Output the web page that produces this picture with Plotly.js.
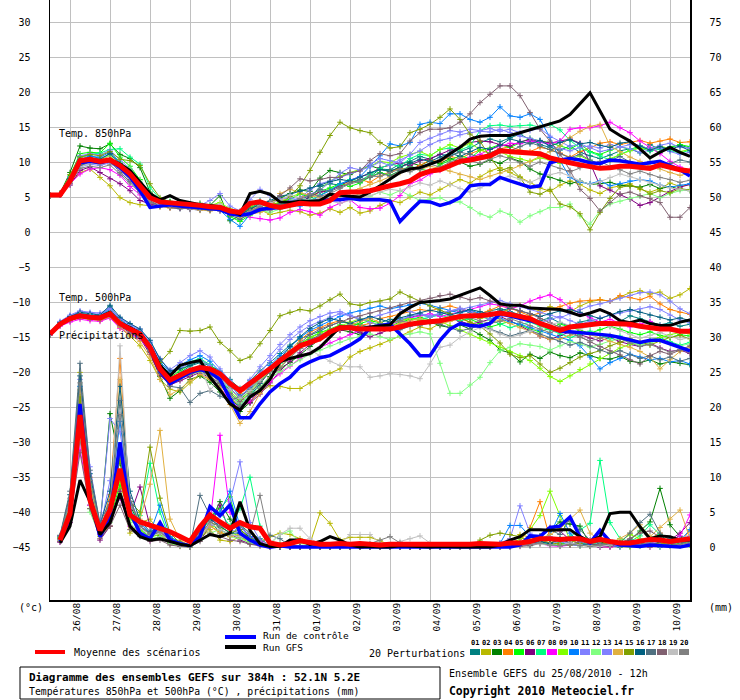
<!DOCTYPE html>
<html><head><meta charset="utf-8">
<script src="https://cdn.plot.ly/plotly-3.0.1.min.js"></script>
<style>html,body{margin:0;padding:0;background:#fff}#chart{width:740px;height:700px}</style>
</head><body><div id="chart"></div>
<script>
// time axis: hours from 25/08/2010 12h, every 6h
const hours = [0,6,12,18,24,30,36,42,48,54,60,66,72,78,84,90,96,102,108,114,120,126,132,138,144,150,156,162,168,174,180,186,192,198,204,210,216,222,228,234,240,246,252,258,264,270,276,282,288,294,300,306,312,318,324,330,336,342,348,354,360,366,372,378,384];
const tickHours = [12,36,60,84,108,132,156,180,204,228,252,276,300,324,348,372];
const tickLabels = ['26/08','27/08','28/08','29/08','30/08','31/08','01/09','02/09','03/09','04/09','05/09','06/09','07/09','08/09','09/09','10/09'];
const tempTicks = [-45,-40,-35,-30,-25,-20,-15,-10,-5,0,5,10,15,20,25,30];
const rainTicks = [0,5,10,15,20,25,30,35,40,45,50,55,60,65,70,75];
const memberNames = ['01','02','03','04','05','06','07','08','09','10','11','12','13','14','15','16','17','18','19','20'];
const memberColors = ['#008080','#b8b800','#008000','#ff8000','#00ff00','#800080','#00ff80','#ff00ff','#80ff00','#0080ff','#8080ff','#80ff80','#8080ff','#e0b040','#80a000','#006080','#507080','#806070','#c0c0c0','#808080'];

// Ensemble mean / control / GFS
const t850_mean = [5.4,5.4,7.4,10.3,10.5,10.2,10.4,9.6,8.4,6.7,5.0, 4.4,4.3,4.1,4.0,3.9,3.7,3.6,3.1,2.9,4.2, 4.4,3.9,3.6,3.9,4.2,4.1,4.1,4.6,5.7,5.8, 5.8,6.0,6.4,6.7,7.0,7.4,8.3,8.8,9.0,9.6, 10.2,10.4,10.7,11.0,11.7,11.6,11.4,11.4,11.3,10.7, 10.3,10.0,9.7,9.4,9.2,9.3,9.5,9.5,9.3,9.2,9.7,9.3,9.0,8.8];
const t850_ctrl = [5.4,5.4,7.5,10.0,10.2,10.0,10.3,9.3,8.0,6.0,3.6, 3.8,4.0,3.8,3.7,3.6,3.5,3.3,2.7,2.5,2.7, 3.3,3.5,3.6,3.9,4.1,4.3,4.6,4.7,4.7,4.9, 4.7,4.7,4.7,4.5,1.6,3.1,4.5,4.4,3.9,4.3, 5.0,6.7,6.9,6.9,7.9,7.4,7.0,6.5,6.7,10.0, 10.4,10.6,10.4,10.0,9.9,10.4,10.3,10.0,9.8,10.0,10.2,9.6,9.0,8.1];
const t850_gfs = [5.4,5.4,7.5,10.2,10.4,10.1,10.5,9.8,8.9,7.2,5.6, 4.7,5.3,4.6,4.3,4.0,3.9,3.7,3.1,2.6,5.6, 5.9,5.5,4.4,4.3,4.5,4.5,4.6,5.5,5.3,5.2, 5.1,5.8,6.7,7.7,8.6,9.1,9.3,9.8,10.3,11.3, 12.2,13.4,13.8,13.9,13.9,13.9,14.3,14.7,15.1,15.5, 16.0,16.9,18.4,20.0,17.4,14.8,13.9,13.1,12.0,10.7,11.5,12.2,11.5,10.9];
const t500_mean = [-14.5,-13.1,-12.3,-11.9,-12.1,-12.2,-11.6,-13.0,-13.8,-14.5,-16.4,-19.5,-21.1, -20.4,-19.7,-19.3,-19.5,-20.2,-21.6,-22.6,-21.6,-20.4,-19.5,-18.3,-17.2, -16.2,-15.7,-15.2,-14.2,-13.6,-13.6,-13.8,-13.8,-13.8,-13.8,-13.5,-13.1, -12.9,-12.8,-12.6,-12.3,-12.0,-11.9,-11.9,-11.7,-11.5,-11.7,-12.0,-12.3, -13.0,-13.5,-14.0,-13.5,-13.3,-13.1,-13.0,-13.0,-13.0,-13.1,-13.4,-13.6,-13.8,-13.8,-14.1,-14.1];
const t500_ctrl = [-14.5,-13.1,-12.3,-11.9,-12.1,-12.2,-11.5,-13.0,-13.8,-14.6,-16.6,-19.8,-21.6, -20.8,-20.0,-19.6,-20.0,-21.0,-23.8,-26.5,-26.5,-24.5,-22.8,-21.6,-20.7, -19.2,-18.5,-17.9,-17.6,-16.9,-16.1,-15.2,-13.7,-13.3,-13.1,-14.5,-15.9, -17.6,-17.6,-15.4,-13.8,-13.0,-13.3,-13.4,-13.0,-11.6,-11.9,-12.3,-12.6, -13.0,-13.5,-14.1,-14.2,-14.3,-14.4,-14.6,-14.7,-15.0,-15.3,-15.7,-15.4,-15.4,-15.9,-16.4,-16.9];
const t500_gfs = [-14.5,-13.0,-12.2,-11.8,-12.0,-12.1,-11.4,-12.9,-13.6,-14.4,-16.3,-19.0,-20.5, -19.0,-18.6,-18.3,-20.7,-22.5,-24.5,-25.4,-23.5,-22.6,-21.0,-18.5,-18.0, -17.7,-17.3,-16.4,-15.0,-13.5,-13.5,-13.7,-13.5,-13.4,-13.2,-11.6,-10.7, -10.0,-9.9,-9.7,-9.5,-9.0,-8.5,-7.9,-9.0,-10.2,-10.4,-10.4,-10.8, -10.9,-11.0,-11.0,-11.4,-11.9,-11.5,-11.0,-11.6,-12.6,-12.9,-12.5,-13.0,-13.3,-13.3,-12.8,-12.5];
const rr_mean = [null,1.0,4.8,18.9,6.7,2.4,5.3,11.2,4.6,3.6,3.1,2.7,2.2, 1.5,0.8,2.9,4.6,3.6,2.7,3.5,2.9,2.7,0.6,0.3,0.5, 0.9,0.6,0.4,0.4,0.5,0.4,0.5,0.4,0.3,0.4,0.4,0.3, 0.3,0.4,0.3,0.3,0.4,0.4,0.5,0.4,0.4,0.6,0.6,0.8, 1.2,1.2,1.1,1.2,1.2,0.8,1.1,0.8,0.6,0.6,0.8,1.1,1.0,0.8,1.0,1.2];
const rr_ctrl = [null,0.8,4.0,20.5,7.2,1.5,4.2,15.0,5.0,2.0,1.2,3.5,1.0, 0.5,0.2,1.5,5.8,4.5,6.0,2.0,1.0,0.3,0.0,0.2,0.0, 0.0,0.0,0.0,0.0,0.0,0.0,0.0,0.0,0.0,0.0,0.1,0.0, 0.0,0.0,0.0,0.0,0.0,0.0,0.0,0.0,0.0,0.0,0.3,1.6, 1.5,2.8,3.0,4.3,1.5,0.6,2.4,0.8,0.3,0.2,0.1,0.3,0.2,0.1,0.0,0.3];
const rr_gfs = [null,0.6,3.0,9.6,6.5,1.8,3.5,7.7,3.0,1.5,1.0,1.2,0.8, 0.4,0.2,1.0,1.8,1.5,2.0,6.5,2.4,0.5,0.1,0.1,1.0, 1.0,0.4,0.8,1.5,1.0,0.3,0.0,0.1,0.0,0.0,0.2,0.1, 0.0,0.0,0.1,0.0,0.0,0.0,0.0,0.0,0.3,1.0,1.5,2.5, 2.5,2.4,2.5,2.5,1.5,0.8,1.5,4.8,5.0,5.0,2.9,1.2,1.6,1.5,1.0,1.0];

// 20 perturbations
const m01_t850 = [5.3,5.5,7.8,10.9,11.0,10.6,11.2,10.0,8.8,7.0,5.2, 4.2,4.4,4.0,3.8,3.9,3.7,3.5,3.2,2.6,3.8, 4.6,4.0,3.4,4.1,4.6,5.0,6.6,7.0,6.8,7.4, 7.2,8.0,9.1,9.0,9.8,10.2,10.9,10.5,11.2,11.0, 11.6,12.1,12.9,13.4,13.0,13.6,14.1,13.3,12.6,12.2, 11.8,12.4,11.5,11.0,10.6,11.1,11.7,12.0,11.4,12.6,11.9,12.3,12.5,12.1];
const m01_t500 = [-14.6,-13.0,-12.0,-11.5,-11.8,-12.0,-10.6,-12.4,-13.5,-14.2,-16.0,-19.0,-21.0, -20.0,-19.1,-18.6,-19.0,-19.8,-21.0,-22.3,-21.2,-19.8,-18.6,-17.3,-16.1, -15.2,-14.6,-14.1,-13.3,-12.8,-12.9,-13.2,-13.5,-12.9,-12.4,-12.6,-12.1, -11.8,-12.0,-11.7,-11.3,-11.0,-11.4,-11.6,-11.2,-10.9,-11.3,-11.8,-12.2, -12.6,-12.2,-12.9,-13.4,-12.8,-12.5,-12.9,-13.3,-12.7,-11.9,-12.3,-12.8,-13.2,-12.9,-13.4,-13.1];
const m01_rr = [null,1.2,5.5,21.0,7.8,2.6,6.0,13.5,4.2,2.5,1.5,2.8,1.4, 0.8,0.3,2.5,3.8,2.0,1.5,3.2,2.0,1.2,0.2,0.0,0.0, 0.2,0.0,0.0,0.1,0.0,0.0,0.0,0.0,0.0,0.0,0.0,0.0, 0.0,0.0,0.0,0.0,0.2,0.0,0.0,0.1,0.3,0.2,0.5,0.3, 0.8,0.4,0.2,0.6,1.2,0.5,0.3,0.1,0.0,0.2,0.6,0.3,0.0,0.4,0.8,1.4];
const m02_t850 = [5.3,5.4,7.0,8.6,9.1,7.9,6.7,5.0,4.3,4.0,3.9, 3.7,3.9,3.6,3.4,3.2,3.5,3.3,2.8,2.4,2.9, 3.3,2.6,2.9,3.2,3.0,2.5,2.8,3.4,2.9,3.6, 2.8,3.1,3.9,4.6,4.3,5.1,5.8,5.4,6.2,6.9, 7.6,7.1,8.0,8.8,9.3,8.6,8.0,7.2,6.4,5.9, 6.8,7.4,6.9,6.1,5.6,6.4,6.7,7.0,6.2,5.8,6.3,7.1,6.6,6.9];
const m02_t500 = [-14.6,-13.3,-12.6,-12.2,-12.4,-12.6,-12.1,-13.6,-14.8,-16.2,-18.3,-21.0,-22.4, -22.8,-21.5,-20.4,-21.0,-21.8,-23.5,-25.0,-24.2,-22.8,-21.9,-22.0,-22.3, -22.3,-21.5,-20.7,-20.1,-19.5,-17.8,-17.0,-16.5,-16.0,-15.4,-14.8,-14.2, -13.5,-13.8,-13.0,-12.4,-12.0,-11.8,-12.3,-12.0,-11.5,-11.0,-10.4,-10.8, -11.2,-10.6,-10.9,-11.3,-10.5,-9.9,-9.6,-9.8,-9.2,-8.6,-8.3,-8.8,-8.5,-9.4,-8.9,-8.0];
const m02_rr = [null,0.9,4.2,25.0,9.0,1.5,3.0,8.5,2.0,3.5,4.0,2.0,0.5, 0.2,0.0,1.2,2.5,1.0,0.8,1.5,0.5,0.8,1.5,2.0,1.8, 1.2,0.5,4.9,3.4,1.0,1.4,1.4,1.4,0.9,0.3,0.1,0.0, 0.0,0.0,0.0,0.2,0.0,0.1,0.0,0.0,0.4,0.7,1.8,1.4, 0.9,0.6,1.1,0.5,0.2,0.4,0.8,0.3,0.1,0.0,0.3,0.5,0.2,0.6,0.4,0.9];
const m03_t850 = [5.3,5.6,8.6,12.4,12.1,12.0,12.7,11.2,10.6,9.3,5.8, 4.6,4.3,4.1,3.9,4.2,3.9,5.3,1.7,2.4,3.6, 4.1,4.4,4.9,5.6,6.1,5.9,7.8,8.9,8.6,8.3, 9.0,9.6,9.1,8.7,9.4,10.0,9.6,10.3,9.9,10.6, 10.1,9.5,9.8,10.4,9.9,10.7,10.2,9.1,8.4,7.9, 7.5,7.0,7.4,6.9,7.0,7.2,6.8,6.7,6.5,6.9,6.3,6.6,6.2,6.0];
const m03_t500 = [-14.5,-13.0,-12.3,-11.8,-12.0,-12.2,-11.3,-13.2,-14.0,-14.9,-17.1,-20.6,-23.7, -22.6,-21.0,-20.5,-21.4,-22.8,-24.2,-25.6,-24.3,-22.1,-20.6,-19.4,-18.6, -17.5,-16.3,-15.2,-14.5,-13.9,-14.2,-14.6,-14.0,-13.5,-13.7,-13.2,-12.9, -13.1,-12.8,-13.3,-13.6,-13.2,-13.8,-14.6,-15.4,-16.8,-17.2,-18.5,-17.4, -18.0,-17.1,-17.6,-17.9,-17.2,-17.6,-18.0,-18.1,-17.7,-18.4,-18.6,-18.2,-18.8,-18.5,-18.7,-18.9];
const m03_rr = [null,1.0,5.0,19.5,8.2,3.0,19.1,12.0,6.0,3.0,1.8,1.6,0.7, 0.3,0.1,1.8,3.5,6.5,4.0,2.5,1.4,0.6,0.2,0.0,0.1, 0.0,0.3,0.0,0.0,0.1,0.0,0.0,0.0,0.0,0.0,0.0,0.0, 0.0,0.0,0.0,0.0,0.0,0.0,0.1,0.2,0.0,0.3,0.6,0.4, 1.6,2.5,3.6,3.3,3.0,0.4,0.8,0.2,0.6,1.0,2.3,3.6,8.4,3.2,1.5,0.6];
const m04_t850 = [5.3,5.5,7.6,10.2,10.6,10.4,11.0,9.5,8.0,6.4,4.9, 4.3,4.0,3.8,3.7,3.5,3.4,3.6,3.0,2.6,3.2, 3.8,4.2,4.8,4.4,5.0,5.6,5.3,6.2,6.7,7.1, 7.6,7.2,8.1,8.7,9.2,9.0,9.6,10.4,10.1,10.9, 10.6,11.3,11.8,11.4,12.0,12.3,11.8,11.6,12.2,11.9, 11.4,10.8,11.6,12.1,12.8,13.0,12.6,12.9,13.2,12.8,13.1,13.4,12.9,13.0];
const m04_t500 = [-14.6,-13.1,-12.4,-12.0,-12.2,-12.3,-11.7,-13.0,-13.9,-14.6,-16.5,-19.6,-21.3, -20.5,-19.8,-19.4,-19.9,-20.6,-21.9,-23.0,-22.1,-20.9,-19.6,-18.1,-16.9, -15.4,-14.2,-13.6,-13.0,-12.6,-12.9,-13.3,-13.0,-12.3,-12.0,-11.6,-11.3, -11.0,-11.2,-10.8,-10.5,-10.9,-11.2,-11.6,-11.1,-10.5,-10.8,-11.4,-11.9, -11.5,-11.0,-10.6,-10.1,-9.8,-9.7,-9.6,-9.8,-9.0,-9.3,-9.6,-9.1,-10.2,-11.0,-11.4,-11.7];
const m04_rr = [null,1.1,6.0,22.0,10.0,2.0,7.5,27.0,5.5,3.0,2.0,2.5,1.0, 0.5,0.2,2.0,3.0,2.2,1.5,1.8,1.0,0.4,0.1,0.0,0.0, 0.0,0.0,0.0,0.0,0.0,0.0,0.0,0.0,0.0,0.0,0.0,0.0, 0.0,0.0,0.0,0.0,0.0,0.0,0.0,0.2,0.5,1.2,0.8,2.8, 6.5,1.2,0.5,0.3,0.6,0.2,0.1,0.0,0.3,0.8,0.4,1.2,2.0,1.0,0.6,2.4];
const m05_t850 = [5.3,5.6,8.1,11.3,11.5,11.4,12.8,10.8,9.5,7.6,5.6, 4.4,4.2,4.0,3.9,3.7,3.8,3.9,2.3,1.6,2.5, 4.0,3.6,4.3,4.8,5.5,5.1,5.9,6.4,7.0,6.6, 7.1,8.0,8.6,8.2,8.9,9.5,9.1,8.8,9.7,10.4, 11.0,10.6,11.8,12.1,12.6,12.2,12.8,13.5,13.1,12.9, 12.4,12.0,12.7,11.6,11.2,11.8,12.3,11.9,12.4,12.0,11.5,12.2,12.6,12.3];
const m05_t500 = [-14.4,-12.9,-12.1,-11.7,-11.9,-12.0,-11.2,-12.8,-13.6,-14.4,-16.2,-19.2,-20.7, -19.8,-18.9,-18.3,-18.9,-20.1,-22.3,-23.9,-22.6,-21.0,-19.5,-18.2,-17.0, -15.9,-15.0,-14.3,-13.8,-13.2,-13.4,-13.0,-12.6,-12.9,-13.4,-12.8,-12.4, -12.1,-12.5,-12.9,-12.4,-12.0,-12.4,-13.0,-13.5,-13.1,-12.7,-13.2,-13.8, -14.2,-13.6,-13.1,-13.5,-14.0,-14.4,-13.9,-13.4,-13.8,-14.3,-14.6,-14.2,-14.7,-15.0,-14.6,-14.8];
const m05_rr = [null,1.3,4.5,17.0,5.5,2.2,4.0,9.0,5.0,2.4,1.6,2.2,0.9, 0.4,0.1,1.5,4.4,5.5,7.2,2.0,1.2,0.5,0.2,0.3,0.8, 0.8,0.3,0.5,0.2,0.1,0.2,0.3,0.0,0.0,0.0,0.0,0.0, 0.0,0.0,0.0,0.0,0.0,0.0,0.0,0.0,0.1,0.3,0.5,0.4, 0.8,1.0,0.6,0.4,0.2,0.3,0.5,0.4,0.2,0.1,0.3,0.5,0.4,0.8,0.5,0.3];
const m06_t850 = [5.3,5.4,6.8,8.9,9.4,8.6,7.7,7.0,6.0,4.6,4.1, 3.9,4.1,3.8,3.6,3.8,3.5,3.7,3.3,2.8,3.5, 4.2,3.7,3.9,4.6,4.2,5.2,5.8,6.0,6.8,7.5, 8.0,8.4,9.3,9.7,10.0,9.6,10.3,10.6,11.2,11.8, 12.2,12.9,13.1,13.0,12.6,12.4,13.0,13.3,13.1,12.8, 13.1,13.4,12.8,10.0,6.7,6.1,5.5,4.8,3.9,4.3,5.1,5.9,6.5,6.9];
const m06_t500 = [-14.6,-13.3,-12.6,-12.1,-12.3,-12.5,-11.9,-13.4,-14.3,-15.1,-17.4,-20.4,-21.8, -21.2,-20.6,-20.0,-20.8,-21.5,-22.4,-23.5,-24.4,-23.1,-21.5,-19.8,-18.4, -17.2,-16.0,-15.1,-14.6,-14.0,-13.8,-14.3,-14.9,-14.4,-13.8,-13.4,-13.0, -12.6,-12.9,-12.5,-12.2,-12.7,-13.1,-12.8,-12.4,-12.0,-12.6,-13.3,-14.0, -14.8,-15.3,-14.7,-14.2,-14.6,-15.1,-15.5,-15.0,-15.6,-16.0,-16.3,-15.8,-16.5,-17.0,-16.8,-17.3];
const m06_rr = [null,0.7,3.5,15.5,6.0,1.0,3.0,8.0,4.5,8.6,3.0,1.5,0.6, 0.3,0.0,1.0,3.0,6.0,2.0,1.0,0.5,0.2,0.0,0.0,0.0, 0.0,0.0,0.0,0.0,0.0,0.0,0.0,0.0,0.0,0.0,0.0,0.0, 0.0,0.0,0.0,0.0,0.0,0.0,0.0,0.0,0.0,0.2,0.4,0.8, 1.5,2.8,2.3,1.0,0.5,0.2,0.0,0.1,0.3,0.5,0.2,0.0,0.4,1.0,2.0,3.5];
const m07_t850 = [5.3,5.6,7.9,10.8,11.2,11.4,11.9,12.0,10.8,9.8,6.5, 4.8,4.5,4.2,4.0,3.8,3.9,3.6,3.1,2.7,3.4, 4.3,3.9,4.0,4.5,4.9,4.6,5.4,6.1,6.9,7.6, 7.4,8.3,9.2,9.8,9.5,10.6,11.2,11.0,11.9,12.1, 11.8,12.4,14.6,15.3,15.4,15.2,15.3,15.4,15.1,15.5, 14.7,13.2,12.1,11.5,11.0,10.4,11.2,11.8,12.2,11.6,12.0,11.7,11.4,11.8];
const m07_t500 = [-14.5,-13.0,-12.2,-11.6,-11.8,-12.0,-11.0,-12.6,-13.5,-14.3,-16.0,-18.8,-20.2, -19.2,-18.5,-18.0,-18.9,-20.4,-22.9,-24.6,-23.2,-21.3,-19.9,-18.7,-17.5, -16.3,-15.4,-14.8,-14.2,-13.5,-13.1,-13.6,-14.0,-13.4,-12.9,-12.5,-12.2, -12.4,-12.1,-11.8,-12.2,-12.6,-12.3,-11.9,-12.5,-13.0,-13.6,-13.2,-12.8, -13.4,-13.9,-14.5,-15.0,-14.6,-14.1,-14.7,-15.2,-14.8,-15.5,-15.9,-15.4,-15.0,-15.6,-16.1,-15.7];
const m07_rr = [null,1.4,6.5,20.0,9.5,2.5,5.5,10.5,5.0,4.5,12.0,5.0,1.0, 0.4,0.1,2.0,4.0,5.0,3.0,5.5,10.0,3.0,0.3,0.2,0.1, 0.1,0.0,0.0,0.0,0.0,0.0,0.0,0.0,0.0,0.0,0.0,0.0, 0.0,0.0,0.0,0.0,0.0,0.0,0.0,0.0,0.0,0.1,0.3,0.2, 0.6,0.4,0.2,1.5,2.5,3.4,12.4,3.5,1.2,0.8,1.6,3.2,1.8,0.5,0.3,0.4];
const m08_t850 = [5.3,5.4,7.0,8.4,9.1,9.3,9.0,8.2,6.6,5.4,4.3, 3.9,3.6,3.5,3.7,3.4,3.6,3.8,3.0,2.5,2.2, 2.0,1.8,2.1,2.9,3.3,3.0,2.5,3.6,4.2,4.7, 3.6,3.4,3.5,4.2,5.3,7.0,7.5,8.4,8.9,9.6, 10.3,10.8,11.2,11.9,12.4,12.8,12.7,13.1,12.9,12.7, 13.1,14.8,15.0,15.0,15.3,15.8,15.0,14.3,13.1,12.2,11.3,10.2,9.4,8.9];
const m08_t500 = [-14.7,-13.4,-12.8,-12.4,-12.6,-12.7,-12.2,-13.7,-14.5,-15.2,-17.0,-19.8,-21.2, -20.6,-20.0,-19.6,-20.5,-22.1,-24.0,-25.2,-24.1,-22.6,-21.3,-20.2,-19.1, -18.0,-17.2,-16.4,-15.8,-15.2,-14.6,-13.9,-13.4,-13.6,-13.1,-12.7,-12.2, -11.9,-11.6,-12.0,-11.7,-11.3,-11.0,-10.6,-10.2,-10.4,-10.9,-10.5,-9.8, -9.3,-8.9,-9.6,-10.8,-11.5,-12.2,-12.8,-12.4,-13.0,-13.5,-13.1,-12.7,-13.4,-13.9,-14.2,-14.0];
const m08_rr = [null,0.8,5.2,14.0,6.0,1.8,4.5,7.0,3.0,2.0,1.0,1.5,0.8, 0.5,0.1,1.5,3.5,16.0,5.0,3.0,1.5,0.8,0.2,0.1,0.0, 0.0,0.0,0.0,0.0,0.0,0.0,0.0,0.0,0.0,0.0,0.0,0.0, 0.0,0.0,0.0,0.0,0.0,0.0,0.0,0.0,0.0,0.0,0.2,0.3, 0.5,0.2,0.1,0.3,0.5,0.2,0.1,0.0,0.2,0.4,0.3,0.6,0.5,0.8,1.6,4.6];
const m09_t850 = [5.3,5.5,7.2,9.6,10.2,10.1,10.6,9.4,8.2,6.8,5.1, 4.3,4.0,3.9,3.7,3.6,3.9,4.3,3.4,3.0,3.7, 4.4,3.9,4.4,5.1,5.6,5.3,6.1,7.4,8.1,8.6, 9.0,9.5,10.2,10.0,10.8,11.2,11.6,11.0,11.9,12.6, 12.1,12.8,11.9,11.3,11.6,10.9,10.6,10.2,10.7,10.4, 9.9,10.5,11.0,10.3,9.8,10.6,11.2,11.7,12.1,11.9,12.4,12.0,11.6,11.9];
const m09_t500 = [-14.5,-13.1,-12.3,-11.9,-12.1,-12.2,-11.5,-12.9,-13.7,-14.5,-16.6,-19.7,-21.5, -20.7,-20.1,-19.7,-20.3,-21.2,-22.7,-24.1,-22.8,-21.2,-19.8,-18.4,-17.2, -16.0,-15.1,-14.4,-13.9,-13.4,-12.8,-12.3,-12.7,-13.3,-12.9,-12.6,-12.3, -12.6,-13.0,-12.7,-13.3,-13.9,-14.5,-15.1,-15.8,-16.4,-17.0,-17.6,-18.3, -19.4,-20.6,-21.3,-20.5,-19.6,-18.8,-18.0,-17.2,-16.5,-16.0,-15.7,-15.3,-15.0,-14.6,-14.3,-14.5];
const m09_rr = [null,1.0,4.6,18.0,7.0,2.0,5.0,9.5,4.0,2.5,1.4,1.8,0.6, 0.2,0.0,1.2,3.0,2.8,2.2,1.5,0.8,0.3,0.2,0.4,0.3, 0.0,0.0,0.1,0.2,0.0,0.0,0.0,0.0,0.0,0.0,0.0,0.0, 0.0,0.0,0.0,0.0,0.0,0.0,0.0,0.0,0.0,0.1,1.2,2.5, 4.5,8.0,4.5,1.0,0.5,0.6,0.3,0.2,0.8,1.8,1.2,0.5,0.3,0.2,0.6,0.8];
const m10_t850 = [5.3,5.6,7.8,10.5,10.9,10.8,11.5,10.1,8.7,6.9,5.0, 4.0,3.8,3.6,3.4,3.5,3.3,3.2,1.9,0.9,2.6, 3.1,3.5,3.9,4.2,3.8,4.4,5.3,6.0,7.0,7.5, 8.0,9.5,11.0,12.7,12.4,12.9,15.5,15.8,15.6,17.0, 17.0,16.2,15.8,16.5,18.0,16.7,16.5,17.0,16.2,13.6, 10.3,7.9,7.2,7.0,7.4,6.7,7.0,7.4,7.6,7.4,6.8,6.5,6.8,7.0];
const m10_t500 = [-14.5,-13.0,-12.1,-11.6,-11.8,-11.9,-11.0,-12.5,-13.4,-14.1,-15.8,-18.5,-20.0, -19.0,-18.2,-17.6,-18.4,-19.9,-21.8,-23.4,-22.2,-20.6,-19.0,-17.6,-16.4, -15.0,-14.0,-13.3,-12.6,-12.0,-11.5,-11.2,-10.8,-10.5,-10.9,-10.6,-10.3, -10.1,-10.4,-10.8,-11.2,-11.5,-11.1,-11.6,-12.0,-12.3,-12.8,-13.1,-13.6, -14.0,-14.5,-15.0,-15.4,-16.2,-17.8,-19.5,-18.6,-18.0,-17.4,-17.8,-18.2,-18.0,-18.5,-18.3,-18.8];
const m10_rr = [null,1.1,5.8,23.0,8.5,2.4,6.5,18.0,6.5,3.5,2.0,6.0,1.5, 0.6,0.2,2.2,4.5,5.0,8.0,3.0,1.5,0.6,0.1,0.0,0.2, 0.0,0.0,0.0,0.0,0.0,0.0,0.0,0.0,0.0,0.0,0.0,0.0, 0.0,0.0,0.0,0.0,0.0,0.0,0.0,0.0,0.5,3.1,3.1,1.5, 1.0,1.8,4.8,2.0,0.6,0.3,0.5,0.2,0.1,0.4,0.8,0.3,0.2,0.5,0.9,2.5];
const m11_t850 = [5.3,5.5,8.0,11.0,11.3,11.1,11.8,10.4,9.1,7.2,5.4, 4.4,4.1,3.9,3.7,3.9,4.6,5.6,3.8,3.1,4.7, 6.2,5.3,4.8,5.0,4.6,5.5,6.1,7.2,8.5,9.3, 9.0,9.8,10.6,10.3,10.0,11.2,12.9,13.5,14.1,14.6, 14.4,14.8,14.6,14.9,14.5,14.8,14.3,14.6,14.9,13.8, 13.0,12.3,12.7,12.1,11.6,11.9,12.2,12.6,12.4,12.0,12.5,12.8,12.2,12.1];
const m11_t500 = [-14.4,-12.8,-11.9,-11.3,-11.5,-11.7,-10.9,-12.3,-13.2,-14.0,-15.7,-18.2,-19.6, -18.6,-17.6,-16.9,-17.8,-19.5,-21.2,-22.5,-21.0,-19.2,-17.6,-16.0,-14.6, -13.5,-12.6,-12.0,-11.5,-11.3,-11.8,-12.4,-12.9,-13.3,-12.8,-12.4,-12.0, -11.6,-11.9,-11.5,-11.2,-11.0,-10.7,-10.4,-10.0,-9.7,-10.2,-10.6,-11.0, -11.4,-11.8,-12.2,-11.6,-11.0,-10.5,-10.2,-9.8,-9.4,-9.0,-8.6,-8.5,-8.9,-9.8,-10.9,-11.6];
const m11_rr = [null,1.5,6.2,24.0,11.5,3.0,18.4,16.5,7.0,3.2,1.8,2.5,1.0, 0.4,0.1,1.6,3.2,4.5,6.5,12.2,3.5,1.0,0.3,0.1,0.2, 0.0,0.0,0.0,0.0,0.0,0.0,0.0,0.0,0.0,0.2,0.5,0.3, 0.0,0.0,0.0,0.0,0.0,0.0,0.1,0.3,0.6,1.2,5.9,2.0, 1.0,0.5,0.8,0.3,0.2,0.5,0.3,0.1,0.4,0.6,0.2,0.5,1.0,0.3,0.8,1.5];
const m12_t850 = [5.3,5.5,7.4,9.9,10.4,10.6,11.0,10.0,9.1,7.4,5.4, 4.3,4.1,3.8,3.6,3.5,3.7,3.4,2.8,2.0,2.6, 3.2,2.9,3.4,3.8,4.2,3.9,4.5,4.9,5.3,5.0, 5.6,5.2,5.8,5.4,6.0,5.3,4.6,4.8,5.0,4.3, 4.4,3.6,2.7,2.2,3.1,2.6,1.5,2.4,3.0,3.6, 3.6,4.1,2.4,1.2,3.1,4.1,4.5,4.9,5.2,5.6,5.0,5.6,6.0,6.2];
const m12_t500 = [-14.6,-13.2,-12.5,-12.0,-12.2,-12.4,-11.8,-13.3,-14.1,-14.9,-16.9,-19.9,-21.6, -20.8,-20.3,-19.9,-20.6,-21.7,-23.1,-24.4,-23.3,-22.0,-20.8,-19.9,-19.0, -18.2,-17.4,-16.8,-16.2,-15.7,-15.2,-14.8,-14.5,-14.9,-15.3,-14.8,-14.5, -14.2,-14.5,-18.7,-23.0,-23.0,-21.8,-20.7,-18.6,-16.9,-16.4,-15.9,-16.1, -16.3,-16.8,-16.2,-15.6,-15.9,-16.4,-16.0,-15.5,-15.2,-15.7,-16.1,-15.8,-15.4,-15.9,-16.2,-15.9];
const m12_rr = [null,0.9,4.0,16.0,5.0,1.6,3.5,7.5,3.5,2.0,1.2,1.5,0.5, 0.2,0.0,1.0,2.0,2.5,1.5,1.2,0.6,0.3,0.4,1.8,2.3, 0.5,0.3,0.2,0.1,0.0,0.0,0.0,0.0,0.0,0.0,0.0,0.0, 0.0,0.0,0.0,0.2,0.3,0.0,0.0,0.1,0.0,0.0,0.3,0.8, 0.5,0.3,0.2,0.6,0.3,0.1,0.2,0.4,0.2,0.0,0.1,0.3,0.2,0.1,0.2,0.4];
const m13_t850 = [5.3,5.4,7.1,9.4,9.8,9.6,10.0,8.9,7.5,6.1,4.6, 3.9,3.7,3.5,3.3,3.2,3.4,3.1,2.6,2.3,2.9, 3.6,3.3,3.8,4.5,5.0,6.1,7.0,7.4,7.9,8.5, 8.9,9.4,10.1,9.6,10.4,11.1,11.7,12.6,13.2,13.5, 14.0,14.3,14.5,14.4,14.8,14.3,13.8,13.5,13.1,12.4, 12.0,11.7,12.2,12.4,12.1,12.6,12.3,12.0,11.5,11.8,12.1,11.6,11.2,11.5];
const m13_t500 = [-14.3,-12.7,-11.8,-11.2,-11.4,-11.5,-10.8,-12.2,-13.1,-13.8,-15.5,-18.0,-19.9, -19.3,-18.7,-18.2,-19.0,-20.6,-22.4,-23.6,-22.0,-20.1,-18.3,-16.7,-15.3, -14.2,-13.3,-12.7,-12.1,-11.6,-11.9,-12.5,-12.2,-11.8,-11.4,-11.0,-11.3, -11.7,-12.1,-11.6,-11.2,-10.8,-11.3,-11.8,-12.4,-12.0,-11.5,-11.9,-12.5, -12.9,-12.4,-12.0,-12.6,-13.1,-12.7,-12.2,-11.8,-11.5,-11.2,-10.9,-10.6,-11.0,-11.8,-12.5,-12.9];
const m13_rr = [null,1.2,5.4,20.0,7.5,2.6,9.5,14.0,5.5,3.0,1.8,2.2,1.0, 0.4,0.1,1.5,3.0,3.5,2.5,2.0,1.0,0.4,0.1,0.0,0.2, 0.0,0.0,0.0,0.0,0.0,0.0,0.0,0.0,0.0,0.0,0.0,0.0, 0.0,0.0,0.0,0.0,0.0,0.0,0.0,0.3,0.5,0.2,0.8,0.4, 0.8,1.5,0.9,0.5,0.3,0.2,0.4,0.3,0.2,0.6,1.0,0.5,0.3,0.6,1.2,1.6];
const m14_t850 = [5.3,5.5,7.5,9.9,10.3,10.0,10.5,9.3,7.9,6.2,4.5, 3.8,3.5,3.6,3.4,3.2,3.1,3.3,2.7,2.2,2.6, 2.9,3.4,5.6,6.2,5.7,5.3,5.0,4.8,5.3,5.8, 6.3,6.9,7.4,8.0,8.6,9.2,9.0,9.5,9.2,8.8, 8.3,8.0,7.6,8.1,8.5,9.0,9.6,10.2,10.9,11.6, 12.4,13.6,14.5,15.2,15.5,12.4,11.6,10.8,10.2,9.6,9.1,8.6,8.2,8.5];
const m14_t500 = [-14.6,-13.2,-12.4,-12.0,-12.3,-12.5,-12.0,-13.5,-14.6,-15.6,-17.8,-21.0,-23.2, -22.4,-21.2,-20.3,-20.9,-22.0,-24.6,-27.3,-25.6,-23.0,-20.9,-19.2,-17.8, -16.5,-15.6,-15.0,-14.4,-13.8,-13.2,-12.7,-12.3,-12.8,-13.4,-13.0,-12.6, -12.3,-12.7,-13.1,-12.7,-12.3,-12.8,-13.3,-12.9,-12.5,-13.0,-13.6,-14.2, -14.8,-15.3,-15.2,-14.7,-14.1,-14.6,-15.1,-15.6,-16.0,-16.4,-17.0,-17.8,-19.5,-18.2,-17.0,-16.4];
const m14_rr = [null,1.0,5.5,22.5,9.0,2.5,6.0,24.0,6.0,4.0,9.0,16.7,4.0, 1.0,0.2,1.5,3.0,2.0,1.5,1.8,1.0,0.4,0.2,0.3,0.2, 0.0,0.0,0.0,0.0,0.0,0.0,0.0,0.0,0.0,0.0,0.0,0.0, 0.0,0.0,0.0,0.0,0.0,0.0,0.0,0.0,0.0,0.2,0.5,0.8, 1.2,1.8,2.6,4.0,5.3,2.0,1.0,0.5,1.2,2.0,3.2,1.5,2.8,4.0,5.3,1.2];
const m15_t850 = [5.3,5.6,8.3,10.8,11.2,11.0,11.6,10.5,10.3,9.6,7.0, 5.0,4.4,4.2,4.0,3.8,3.6,3.9,3.2,2.6,3.3, 4.1,4.4,4.0,5.2,6.7,8.9,11.5,13.9,15.8,15.0, 14.6,14.3,12.9,12.1,12.3,14.3,14.8,15.5,16.5,17.7, 16.2,14.1,13.1,10.8,8.9,9.3,7.9,5.8,5.5,6.2, 4.1,3.7,2.7,0.4,2.9,4.9,6.5,6.7,6.4,5.5,6.0,5.7,6.3,6.1];
const m15_t500 = [-14.5,-13.1,-12.3,-11.9,-12.1,-12.3,-11.7,-13.0,-13.9,-14.7,-16.6,-18.6,-17.0, -14.0,-14.1,-14.0,-13.5,-15.7,-16.9,-18.3,-17.8,-15.9,-14.0,-11.9,-11.4, -11.0,-11.2,-10.5,-9.6,-8.8,-10.2,-10.4,-10.0,-9.8,-9.5,-8.5,-9.2, -9.8,-10.5,-11.1,-11.6,-12.2,-12.8,-13.4,-14.5,-15.8,-17.4,-17.9,-17.6, -18.8,-20.0,-19.4,-18.6,-17.8,-17.3,-16.9,-16.2,-15.7,-15.2,-15.6,-16.1,-15.5,-15.0,-14.7,-15.2];
const m15_rr = [null,1.3,6.0,21.5,8.0,2.2,5.5,12.5,6.5,5.0,14.3,7.0,2.0, 0.6,0.2,1.8,3.5,3.0,2.0,2.5,1.2,0.5,0.2,0.1,0.0, 0.0,0.0,0.0,0.0,0.0,0.0,0.0,0.0,0.0,0.0,0.0,0.0, 0.0,0.0,0.0,0.0,0.0,0.0,1.0,1.7,2.0,1.8,1.5,0.8, 1.0,0.6,0.4,0.3,0.5,0.2,0.4,0.6,0.3,0.2,0.5,0.3,0.6,0.4,0.2,0.5];
const m16_t850 = [5.3,5.5,7.7,10.4,10.7,10.5,11.3,9.9,8.5,6.6,4.8, 4.1,3.9,3.7,3.6,3.7,3.5,3.4,2.9,2.5,3.4, 4.0,4.5,5.2,5.5,5.9,6.4,6.8,7.3,7.6,7.4, 7.9,8.6,9.0,8.8,9.3,9.9,10.5,10.2,10.8,11.4, 10.9,11.6,12.2,11.9,12.5,13.4,13.0,12.7,13.2,12.4, 12.9,13.3,12.7,12.9,12.5,12.2,12.8,13.0,12.4,11.8,12.3,11.9,12.4,11.7];
const m16_t500 = [-14.5,-12.9,-12.0,-11.4,-11.6,-11.8,-10.4,-12.1,-13.0,-13.8,-15.4,-18.1,-19.8, -19.5,-19.0,-18.4,-19.6,-21.5,-23.8,-25.0,-23.4,-21.6,-19.8,-18.0,-16.3, -14.9,-13.7,-12.9,-12.3,-12.6,-13.0,-12.5,-12.0,-12.4,-12.8,-12.2,-11.8, -11.5,-11.1,-11.4,-11.8,-11.4,-11.0,-11.3,-11.7,-11.2,-10.8,-11.2,-11.6, -12.0,-11.6,-11.2,-11.0,-11.4,-11.9,-12.3,-11.8,-11.3,-11.0,-11.4,-11.8,-12.1,-12.5,-12.2,-12.6];
const m16_rr = [null,1.6,7.5,24.5,10.5,3.2,8.0,23.0,8.0,3.8,2.2,3.0,1.2, 0.5,0.2,2.5,4.0,3.0,2.0,2.0,1.0,0.5,0.1,0.0,0.0, 0.0,0.0,0.0,0.0,0.0,0.0,0.0,0.0,0.0,0.0,0.0,0.0, 0.0,0.0,0.0,0.0,0.0,0.0,0.0,0.0,0.0,0.1,0.3,0.5, 0.8,0.5,1.2,0.6,0.3,0.5,0.2,0.4,0.6,1.0,0.5,0.3,0.8,1.2,0.6,0.9];
const m17_t850 = [5.3,5.4,7.3,9.6,10.0,9.8,10.3,8.6,7.3,5.9,4.4, 3.8,3.6,3.4,3.5,3.3,3.2,3.6,2.5,1.9,2.7, 3.3,3.8,4.1,4.0,4.7,5.3,6.2,5.9,6.5,7.1, 7.6,7.9,8.5,8.1,8.9,9.4,9.0,9.8,10.4,11.0, 11.5,11.2,10.8,11.4,12.0,11.7,12.3,12.9,12.4,11.9, 11.3,10.7,11.2,10.4,9.8,10.3,10.9,10.1,9.6,10.2,9.5,9.9,10.4,10.1];
const m17_t500 = [-14.6,-13.1,-12.3,-11.8,-12.0,-12.1,-11.4,-12.7,-13.7,-14.6,-16.8,-20.0,-22.0, -22.2,-24.3,-23.0,-22.6,-23.4,-24.0,-23.5,-22.4,-21.0,-19.7,-18.4,-17.3, -16.2,-15.3,-14.6,-14.0,-13.5,-13.8,-14.1,-13.7,-13.2,-13.5,-13.9,-13.4, -13.0,-12.7,-13.1,-13.6,-14.1,-13.7,-13.3,-13.8,-14.3,-14.8,-14.4,-14.0, -14.5,-15.0,-15.6,-16.1,-15.7,-16.2,-16.8,-17.3,-16.9,-17.5,-18.0,-17.6,-18.2,-17.8,-18.4,-18.0];
const m17_rr = [null,1.7,8.0,26.3,11.0,3.5,6.5,21.0,7.0,3.0,2.0,2.0,0.8, 0.3,0.1,7.4,4.5,2.5,1.8,1.5,0.9,0.4,1.7,1.2,0.2, 0.0,0.0,0.0,0.0,0.0,0.0,0.0,0.0,0.0,0.0,0.0,0.0, 0.0,0.0,0.0,0.0,0.0,0.0,0.0,0.0,0.0,0.2,0.3,0.5, 1.5,2.5,1.8,4.0,2.5,1.0,0.5,0.3,0.6,2.0,3.5,4.7,2.0,1.0,0.6,0.8];
const m18_t850 = [5.3,5.5,7.6,9.8,10.1,9.9,10.4,9.0,7.6,6.0,4.5, 3.9,3.6,3.5,3.4,3.6,3.3,3.1,2.6,2.4,3.0, 3.7,4.3,5.3,6.4,7.7,7.4,7.6,7.9,7.9,8.6, 8.8,10.3,11.3,11.0,11.3,13.1,14.3,14.8,14.8,15.0, 15.8,17.0,18.6,19.8,21.0,21.0,19.6,17.2,14.8,13.1, 11.3,8.9,6.2,4.9,3.1,4.3,5.5,5.8,5.3,4.9,4.3,2.2,2.2,3.6];
const m18_t500 = [-14.6,-13.2,-12.5,-12.1,-12.3,-12.4,-11.8,-13.3,-14.2,-15.0,-17.0,-20.1,-21.7, -21.0,-20.3,-19.8,-20.5,-21.6,-23.0,-24.2,-23.0,-21.4,-19.9,-18.5,-17.0, -15.8,-14.6,-13.8,-13.3,-12.7,-12.3,-11.9,-11.5,-11.2,-10.8,-10.4,-10.0, -9.7,-9.4,-9.0,-8.8,-9.2,-9.6,-9.3,-9.8,-10.3,-10.7,-11.2,-11.6, -12.3,-12.9,-13.5,-14.2,-15.0,-15.7,-16.3,-16.9,-17.5,-18.2,-18.8,-17.6,-17.0,-17.4,-16.8,-16.2];
const m18_rr = [null,0.8,4.0,13.5,5.5,1.2,3.0,6.0,2.5,1.5,0.8,1.0,0.3, 0.1,0.0,0.8,2.0,1.5,1.0,0.8,0.4,0.2,0.0,0.0,0.0, 0.0,0.0,0.0,0.0,0.0,0.0,0.0,0.0,0.0,0.0,0.0,0.0, 0.0,0.0,0.0,0.0,0.0,0.0,0.0,0.0,0.0,0.0,0.1,0.2, 0.5,0.3,0.2,0.4,0.8,0.5,0.3,0.1,0.5,1.2,2.0,2.3,1.5,0.6,0.3,0.5];
const m19_t850 = [5.3,5.5,7.2,9.4,9.9,9.8,10.2,9.0,7.8,6.3,4.7, 4.0,3.8,3.9,3.6,3.5,3.8,4.1,3.0,2.4,3.0, 3.9,4.3,4.6,5.4,5.0,4.6,4.9,4.5,4.2,4.6, 4.9,5.3,5.8,6.2,6.0,6.6,7.1,6.8,7.4,6.9, 6.3,5.8,6.4,7.0,7.7,8.1,7.6,7.2,7.8,8.3, 8.6,8.1,7.4,6.9,7.3,7.9,8.4,8.0,7.6,7.1,6.8,6.4,6.2,6.0];
const m19_t500 = [-14.5,-13.0,-12.2,-11.7,-11.9,-12.1,-11.4,-12.8,-13.6,-14.4,-16.3,-19.4,-21.0, -20.2,-19.6,-19.1,-22.6,-20.8,-22.4,-23.7,-22.6,-21.1,-19.6,-18.2,-17.1, -16.5,-16.8,-17.6,-18.4,-19.0,-19.2,-19.2,-20.7,-20.5,-20.2,-20.3,-20.5, -20.9,-18.8,-16.4,-16.1,-15.0,-14.2,-13.6,-13.9,-14.5,-15.0,-14.6,-14.1, -13.7,-13.2,-12.8,-13.3,-13.8,-13.4,-13.0,-13.5,-14.0,-14.6,-15.1,-14.7,-14.3,-14.8,-15.3,-15.0];
const m19_rr = [null,1.0,5.0,19.0,7.0,2.0,4.5,28.8,5.5,2.8,1.5,2.0,0.8, 0.3,0.1,1.4,3.5,2.5,1.8,1.5,1.0,0.5,0.6,1.8,2.7, 2.7,1.2,0.5,0.3,0.4,1.8,1.8,1.8,0.6,0.2,0.8,1.2, 1.6,0.6,0.3,0.1,0.0,0.0,0.0,0.0,0.0,0.1,0.3,0.5, 0.4,0.3,0.2,0.6,0.3,0.2,0.1,0.3,0.5,0.2,0.3,0.4,0.2,0.1,0.3,0.5];
const m20_t850 = [5.3,5.5,7.0,9.2,9.5,9.3,9.7,8.4,7.1,5.7,4.3, 3.7,3.9,3.6,3.8,3.6,3.7,3.5,2.9,2.3,3.1, 3.8,3.2,3.6,4.2,4.9,5.5,5.2,5.6,6.3,7.0, 7.3,8.1,8.0,8.6,9.1,8.7,9.3,9.8,9.4,10.1, 10.7,10.3,9.9,10.5,11.0,10.6,10.0,9.5,10.1,9.7, 9.2,8.7,9.3,9.8,10.2,9.5,9.0,8.4,8.8,8.3,7.9,7.6,7.2,7.5];
const m20_t500 = [-14.6,-13.2,-12.4,-12.0,-12.2,-12.3,-11.6,-13.1,-14.0,-14.8,-16.8,-19.9,-21.4, -20.6,-19.9,-19.4,-20.2,-21.4,-23.2,-24.8,-23.6,-22.3,-20.8,-19.3,-17.9, -16.6,-15.5,-14.7,-14.1,-13.6,-13.2,-13.5,-13.9,-13.5,-13.0,-12.6,-12.9, -13.3,-12.9,-12.5,-12.1,-11.8,-12.2,-12.6,-13.0,-12.7,-12.3,-12.8,-13.3, -13.8,-14.3,-13.9,-14.4,-14.9,-15.5,-15.1,-14.7,-15.2,-15.8,-16.3,-16.0,-16.6,-17.1,-16.7,-17.2];
const m20_rr = [null,1.5,7.0,23.5,9.5,3.0,6.0,19.0,6.5,3.0,1.8,2.2,1.0, 0.4,0.1,1.8,3.6,3.0,2.5,3.0,2.0,7.4,0.8,0.1,0.3, 0.2,0.1,0.3,0.2,0.6,0.3,0.2,0.5,1.0,1.5,0.6,0.3, 0.2,0.1,0.0,0.0,0.0,0.0,0.0,0.0,0.0,0.1,0.2,0.4, 0.6,0.3,0.2,0.4,0.2,0.1,0.3,0.5,0.3,0.2,0.4,0.6,0.3,0.2,0.4,0.6];

const members850 = [m01_t850,m02_t850,m03_t850,m04_t850,m05_t850,m06_t850,m07_t850,m08_t850,m09_t850,m10_t850,m11_t850,m12_t850,m13_t850,m14_t850,m15_t850,m16_t850,m17_t850,m18_t850,m19_t850,m20_t850];
const members500 = [m01_t500,m02_t500,m03_t500,m04_t500,m05_t500,m06_t500,m07_t500,m08_t500,m09_t500,m10_t500,m11_t500,m12_t500,m13_t500,m14_t500,m15_t500,m16_t500,m17_t500,m18_t500,m19_t500,m20_t500];
const membersRR = [m01_rr,m02_rr,m03_rr,m04_rr,m05_rr,m06_rr,m07_rr,m08_rr,m09_rr,m10_rr,m11_rr,m12_rr,m13_rr,m14_rr,m15_rr,m16_rr,m17_rr,m18_rr,m19_rr,m20_rr];

const FONT = 'DejaVu Sans Mono, Liberation Mono, monospace';
const traces = [];
function memberTrace(arr, k, axis, label) {
  const c = memberColors[k];
  return {type:'scatter', x:hours, y:arr, yaxis:axis, mode:'lines+markers', name:label + ' ' + memberNames[k],
    line:{color:c, width:1}, marker:{symbol:'cross-thin', size:4, color:c, line:{color:c, width:1}},
    hoverinfo:'skip', connectgaps:false};
}
for (let k = 0; k < 20; k++) traces.push(memberTrace(membersRR[k], k, 'y2', 'RR'));
for (let k = 0; k < 20; k++) traces.push(memberTrace(members500[k], k, 'y', 'T500'));
for (let k = 0; k < 20; k++) traces.push(memberTrace(members850[k], k, 'y', 'T850'));
function bigTrace(arr, color, width, axis, name) {
  return {type:'scatter', x:hours, y:arr, yaxis:axis, mode:'lines', name:name, line:{color:color, width:width}, hoverinfo:'skip', connectgaps:false};
}
traces.push(bigTrace(rr_ctrl, '#0000ff', 3.5, 'y2', 'Run de contrôle'));
traces.push(bigTrace(t500_ctrl, '#0000ff', 3.5, 'y', 'Run de contrôle'));
traces.push(bigTrace(t850_ctrl, '#0000ff', 3.5, 'y', 'Run de contrôle'));
traces.push(bigTrace(rr_gfs, '#000000', 3, 'y2', 'Run GFS'));
traces.push(bigTrace(t500_gfs, '#000000', 3, 'y', 'Run GFS'));
traces.push(bigTrace(t850_gfs, '#000000', 3, 'y', 'Run GFS'));
traces.push(bigTrace(rr_mean, '#ff0000', 5, 'y2', 'Moyenne des scénarios'));
traces.push(bigTrace(t500_mean, '#ff0000', 5, 'y', 'Moyenne des scénarios'));
traces.push(bigTrace(t850_mean, '#ff0000', 5, 'y', 'Moyenne des scénarios'));

// pixel -> paper helpers (plot area: x 50..690, y 0..600)
const PX = px => (px - 50) / 640;
const PY = py => (600 - py) / 600;
function txt(text, px, py, size, bold, anchor) {
  return {text: bold ? '<b>' + text + '</b>' : text, x: PX(px), y: PY(py), xref:'paper', yref:'paper',
    xanchor: anchor || 'left', yanchor:'middle', showarrow:false, borderpad:0,
    font:{family:FONT, size:size, color:'#000'}};
}
const annotations = [
  txt('Temp. 850hPa', 58, 133, 10),
  txt('Temp. 500hPa', 58, 297, 10),
  txt('Précipitations', 58, 335, 10),
  txt('(°c)', 18, 607, 10),
  txt('(mm)', 708, 607, 10),
  txt('Moyenne des scénarios', 73, 652, 10),
  txt('Run de contrôle', 262, 635.5, 9.5),
  txt('Run GFS', 262, 647.5, 9.5),
  txt('20 Perturbations', 368, 653, 10),
  txt('Diagramme des ensembles GEFS sur 384h : 52.1N 5.2E', 28, 678, 11, true),
  txt('Températures 850hPa et 500hPa (°C) , précipitations (mm)', 28, 691, 9.8),
  txt('Ensemble GEFS du 25/08/2010 - 12h', 448, 673, 10),
  txt('Copyright 2010 Meteociel.fr', 448, 691, 11.4, true)
];
// date labels, rotated, placed under the x axis next to each day gridline
for (let k = 0; k < tickHours.length; k++) {
  annotations.push({text:tickLabels[k], x:tickHours[k], xref:'x', y:PY(602), yref:'paper',
    xanchor:'center', yanchor:'top', xshift:6, textangle:-90, showarrow:false, borderpad:0,
    font:{family:FONT, size:9.5, color:'#000'}});
}
const shapes = [
  {type:'line', xref:'paper', yref:'paper', x0:PX(35), x1:PX(65), y0:PY(652), y1:PY(652), line:{color:'#ff0000', width:4}},
  {type:'line', xref:'paper', yref:'paper', x0:PX(225), x1:PX(256), y0:PY(637), y1:PY(637), line:{color:'#0000ff', width:4}},
  {type:'line', xref:'paper', yref:'paper', x0:PX(225), x1:PX(256), y0:PY(647), y1:PY(647), line:{color:'#000000', width:4}},
  {type:'rect', xref:'paper', yref:'paper', x0:PX(20), x1:PX(440), y0:PY(667), y1:PY(699), line:{color:'#000', width:1}, fillcolor:'rgba(0,0,0,0)'}
];
for (let k = 0; k < 20; k++) {
  const x0 = 470 + 11 * k;
  shapes.push({type:'rect', xref:'paper', yref:'paper', x0:PX(x0), x1:PX(x0 + 10), y0:PY(649), y1:PY(655), line:{width:0}, fillcolor:memberColors[k]});
  annotations.push({text:'<b>' + memberNames[k] + '</b>', x:PX(x0 + 5), y:PY(643), xref:'paper', yref:'paper', xanchor:'center', yanchor:'middle', showarrow:false, borderpad:0, font:{family:FONT, size:7, color:'#000'}});
}

const layout = {
  width:740, height:700,
  margin:{l:50, r:50, t:0, b:100, pad:0},
  paper_bgcolor:'#fff', plot_bgcolor:'#fff',
  showlegend:false,
  font:{family:FONT, size:10, color:'#000'},
  xaxis:{range:[0,384], tickvals:tickHours, ticktext:tickLabels, showticklabels:false, ticks:'',
    showgrid:true, gridcolor:'#c0c0c0', gridwidth:1, zeroline:false,
    showline:true, linecolor:'#000', linewidth:1.5, fixedrange:true},
  yaxis:{range:[-52.57,33.29], tickvals:tempTicks, ticks:'', showgrid:true, gridcolor:'#c0c0c0', gridwidth:1,
    zeroline:false, showline:true, linecolor:'#000', linewidth:1.5, ticklabelstandoff:16,
    tickfont:{family:FONT, size:10, color:'#000'}, fixedrange:true},
  yaxis2:{overlaying:'y', side:'right', range:[-7.57,78.29], tickvals:rainTicks, ticks:'', showgrid:false,
    zeroline:false, showline:true, linecolor:'#000', linewidth:1.5, ticklabelstandoff:16,
    tickfont:{family:FONT, size:10, color:'#000'}, fixedrange:true},
  annotations:annotations,
  shapes:shapes
};
Plotly.newPlot('chart', traces, layout, {staticPlot:true, displayModeBar:false});
</script>
</body></html>
